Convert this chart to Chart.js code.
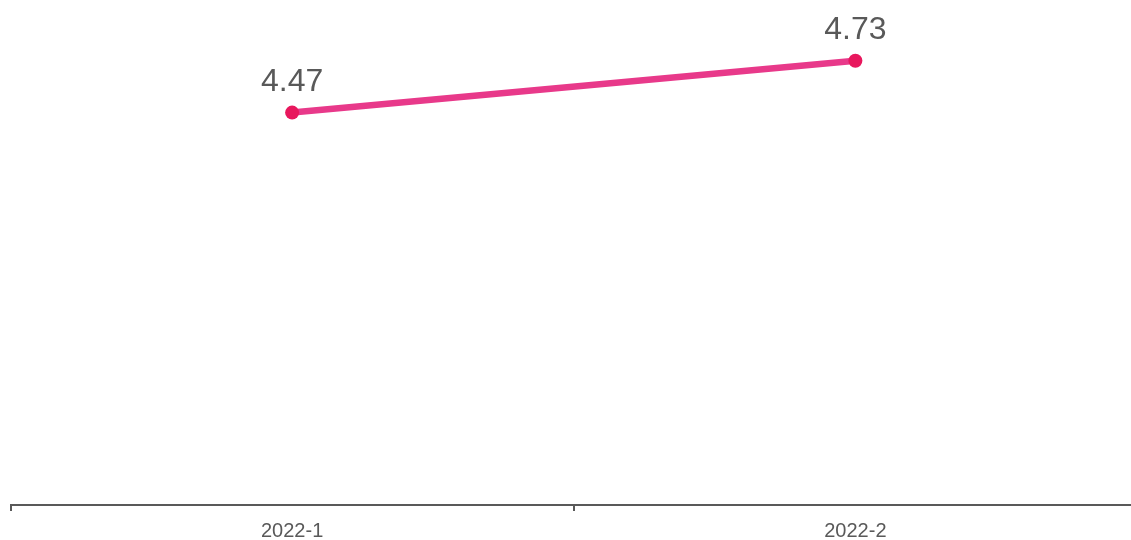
<!DOCTYPE html>
<html><head><meta charset="utf-8">
<script src="https://cdn.jsdelivr.net/npm/chart.js@4.4.0/dist/chart.umd.min.js"></script>
<style>html,body{margin:0;padding:0;background:#fff;overflow:hidden}#wrap{width:1144px;height:540px}</style>
</head><body><div id="wrap"><canvas id="c"></canvas></div>
<script>
const categories = ["2022-1", "2022-2"];
const values = [4.47, 4.73];
const yMin = 2.5;
const yMax = 5;

const labelPlugin = {
  id: 'valLabels',
  afterDatasetsDraw(chart) {
    const ctx = chart.ctx;
    const meta = chart.getDatasetMeta(0);
    ctx.save();
    ctx.font = '32px "Liberation Sans", Arial, sans-serif';
    ctx.fillStyle = '#595959';
    ctx.textAlign = 'center';
    ctx.textBaseline = 'alphabetic';
    meta.data.forEach((pt, i) => {
      ctx.fillText(values[i].toFixed(2), pt.x, pt.y - 22);
    });
    ctx.restore();
  }
};

new Chart(document.getElementById('c'), {
  type: 'line',
  data: {
    labels: categories,
    datasets: [{
      data: values,
      borderColor: '#e8398a',
      borderWidth: 6.5,
      backgroundColor: '#e8175d',
      pointBackgroundColor: '#e8175d',
      pointBorderWidth: 0,
      pointRadius: 7,
      tension: 0
    }]
  },
  options: {
    responsive: true,
    maintainAspectRatio: false,
    animation: false,
    layout: { padding: { left: 10.5, right: 1, top: 4, bottom: -11 } },
    plugins: { legend: { display: false }, tooltip: { enabled: false } },
    scales: {
      x: {
        offset: true,
        grid: { offset: true, drawOnChartArea: false, drawTicks: true, tickLength: 6, color: '#595959', lineWidth: 2 },
        border: { display: true, color: '#595959', width: 2 },
        ticks: { color: '#595959', font: { family: '"Liberation Sans", Arial, sans-serif', size: 20 }, padding: 8 }
      },
      y: { display: false, min: yMin, max: yMax }
    }
  },
  plugins: [labelPlugin]
});
</script></body></html>
